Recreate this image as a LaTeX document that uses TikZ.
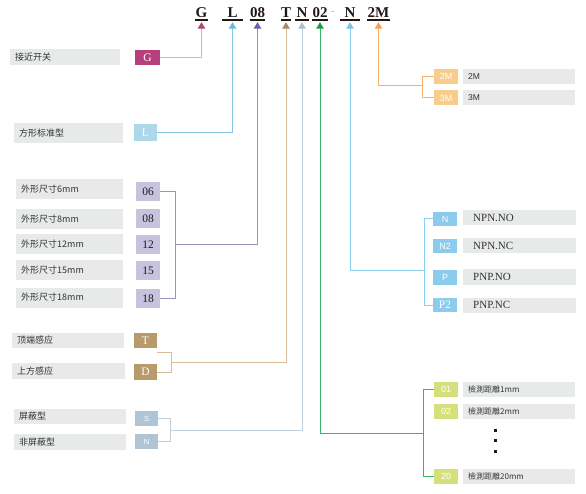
\documentclass[tikz,border=0pt]{standalone}
\usepackage{fontspec}
\setmainfont{Liberation Serif}
\setsansfont{Liberation Sans}
\newfontfamily\cjk{Noto Sans CJK SC}
\usetikzlibrary{arrows.meta,positioning,calc}
\definecolor{Ink}{RGB}{35,24,21}
\definecolor{TextGray}{RGB}{50,50,50}
\definecolor{PanelGray}{RGB}{232,234,234}
\definecolor{GBox}{RGB}{181,64,125}
\definecolor{GLine}{RGB}{230,167,201}
\definecolor{LBox}{RGB}{173,216,234}
\definecolor{LLine}{RGB}{134,198,227}
\definecolor{LTip}{RGB}{109,185,220}
\definecolor{VBox}{RGB}{198,195,223}
\definecolor{VLine}{RGB}{155,146,198}
\definecolor{VTip}{RGB}{106,98,169}
\definecolor{TBox}{RGB}{184,154,108}
\definecolor{TLine}{RGB}{213,190,153}
\definecolor{TTip}{RGB}{168,139,94}
\definecolor{SBox}{RGB}{175,197,214}
\definecolor{SLine}{RGB}{189,208,220}
\definecolor{STip}{RGB}{169,193,210}
\definecolor{EBox}{RGB}{213,224,122}
\definecolor{ELine}{RGB}{57,181,106}
\definecolor{ETip}{RGB}{26,158,74}
\definecolor{OBox}{RGB}{138,203,238}
\definecolor{OLine}{RGB}{141,205,239}
\definecolor{OTip}{RGB}{124,195,234}
\definecolor{MBox}{RGB}{248,205,140}
\definecolor{MLine}{RGB}{245,175,106}
\definecolor{MTip}{RGB}{245,162,85}
\tikzset{
  head/.style={font=\bfseries\fontsize{15}{15}\selectfont,text=Ink,inner sep=0pt,minimum height=14pt},
  uline/.style={draw=Ink,line width=2pt},
  desc/.style={fill=PanelGray,anchor=west,inner xsep=5pt,inner ysep=0pt,text width=#1,text=TextGray,font=\cjk\fontsize{9}{9}\selectfont},
  descrm/.style={desc=#1,font=\fontsize{11}{11}\selectfont},
  descsf/.style={desc=#1,font=\sffamily\fontsize{8.5}{8.5}\selectfont},
  code/.style={fill=#1,minimum width=24pt,minimum height=15pt,inner sep=0pt,text=white,font=\sffamily\fontsize{9}{9}\selectfont},
  coderm/.style={code=#1,font=\fontsize{11.5}{11.5}\selectfont},
  link/.style 2 args={draw=#1,line width=1pt,-{Triangle[width=7.5pt,length=6.5pt,color=#2]},shorten >=2pt},
  brace/.style={draw=#1,line width=1pt}
}
\begin{document}
\begin{tikzpicture}[x=1pt,y=-1pt]
\useasboundingbox (0,0) rectangle (586,494);

% model code
\node[head,minimum width=13pt] (hG) at (201.5,13) {G};
\node[head,minimum width=21pt] (hL) at (232.5,13) {L};
\node[head,minimum width=15pt] (h08) at (257.5,13) {08};
\node[head,minimum width=9pt] (hT) at (286,13) {T};
\node[head,minimum width=13pt] (hN) at (302,13) {N};
\node[head,minimum width=16pt] (h02) at (320,13) {02};
\node[head,text=gray!70,font=\fontsize{10}{10}\selectfont] (hDash) at (333,13) {-};
\node[head,minimum width=20pt] (hOut) at (350,13) {N};
\node[head,minimum width=22pt] (h2M) at (378.5,13) {2M};
\foreach \n in {hG,hL,h08,hT,hN,h02,hOut,h2M} \draw[uline] (\n.south west) -- (\n.south east);

% left column
\node[desc=100pt,minimum height=16pt] (dG) at (10,57) {接近开关};
\node[coderm=GBox,minimum width=25pt] (cG) at (147.5,57.5) {G};
\node[desc=99pt,minimum height=20pt] (dL) at (14,133) {方形标准型};
\node[coderm=LBox,minimum width=23pt,minimum height=17pt] (cL) at (145.5,132.5) {L};

\node[desc=97pt,minimum height=20pt] (d06) at (16,189) {外形尺寸6mm};
\node[desc=97pt,minimum height=20pt] (d08) at (16,219) {外形尺寸8mm};
\node[desc=97pt,minimum height=20pt] (d12) at (16,244) {外形尺寸12mm};
\node[desc=97pt,minimum height=20pt] (d15) at (16,270) {外形尺寸15mm};
\node[desc=97pt,minimum height=20pt] (d18) at (16,297.5) {外形尺寸18mm};
\node[coderm=VBox,text=Ink,minimum height=19pt] (c06) at (148,191.5) {06};
\node[coderm=VBox,text=Ink,minimum height=19pt] (c08) at (148,218.5) {08};
\node[coderm=VBox,text=Ink,minimum height=19pt] (c12) at (148,245) {12};
\node[coderm=VBox,text=Ink,minimum height=19pt] (c15) at (148,271) {15};
\node[coderm=VBox,text=Ink,minimum height=19pt] (c18) at (148,298.5) {18};

\node[desc=102pt,minimum height=15pt] (dT) at (12,340.5) {顶端感应};
\node[desc=103pt,minimum height=16pt] (dD) at (12,371) {上方感应};
\node[coderm=TBox,minimum width=23pt] (cT) at (145.5,340.5) {T};
\node[coderm=TBox,minimum width=23pt,minimum height=16pt] (cD) at (145.5,372) {D};

\node[desc=102pt,minimum height=15pt] (dS) at (14,416.5) {屏蔽型};
\node[desc=102pt,minimum height=16pt] (dU) at (14,442) {非屏蔽型};
\node[code=SBox,minimum width=23pt,font=\sffamily\fontsize{7.5}{7.5}\selectfont] (cS) at (146.5,418.5) {S};
\node[code=SBox,minimum width=23pt,font=\sffamily\fontsize{7.5}{7.5}\selectfont] (cU) at (146.5,441.5) {N};

% right column
\node[code=MBox] (c2M) at (446,76.5) {2M};
\node[code=MBox] (c3M) at (446,98) {3M};
\node[descsf=102pt,minimum height=15pt] (d2M) at (463,76.5) {2M};
\node[descsf=102pt,minimum height=15pt] (d3M) at (463,98) {3M};

\node[code=OBox,minimum height=14pt] (cN) at (445,219) {N};
\node[code=OBox,minimum height=14pt] (cN2) at (445,246) {N2};
\node[code=OBox,minimum height=14pt] (cP) at (445,277.5) {P};
\node[coderm=OBox,minimum height=14pt] (cP2) at (445,305) {P2};
\node[descrm=93pt,minimum height=15pt,inner xsep=10pt] (dN) at (463,218) {NPN.NO};
\node[descrm=93pt,minimum height=15pt,inner xsep=10pt] (dN2) at (463,245.5) {NPN.NC};
\node[descrm=93pt,minimum height=15pt,inner xsep=10pt] (dP) at (463,277) {PNP.NO};
\node[descrm=93pt,minimum height=15pt,inner xsep=10pt] (dP2) at (463,305) {PNP.NC};

\node[code=EBox] (c01) at (446,389.5) {01};
\node[code=EBox] (c02) at (446,411.5) {02};
\node[code=EBox] (c20) at (446,476.5) {20};
\node[desc=102pt,minimum height=15pt,font=\cjk\fontsize{8}{8}\selectfont] (d01) at (463,389.5) {檢測距離1mm};
\node[desc=102pt,minimum height=15pt,font=\cjk\fontsize{8}{8}\selectfont] (d02) at (463,411.5) {檢測距離2mm};
\node[desc=102pt,minimum height=15pt,font=\cjk\fontsize{8}{8}\selectfont] (d20) at (463,476.5) {檢測距離20mm};
\foreach \y in {430,440.5,451} \fill[Ink] (493.5,\y-1.5) rectangle ++(3,3);

% brackets
\coordinate (m08) at (175,245);
\coordinate (mT) at (171,362);
\coordinate (mS) at (170,430);
\coordinate (m2M) at (423,86);
\coordinate (mOut) at (425,271);
\coordinate (m02) at (424,433);
\draw[brace=VLine] (c06.east) -- ++(15,0) |- (c18.east);
\draw[brace=TLine] ([yshift=-4pt]cT.south east) -- ++(14,0) |- (cD.east);
\draw[brace=SLine] (cS.east) -- ++(12,0) |- (cU.east);
\draw[brace=MLine] (c2M.west) -- ++(-11,0) |- (c3M.west);
\draw[brace=OLine] (cN.west) -- ++(-8,0) |- (cP2.west);
\draw[brace=ELine] (c01.west) -- ++(-10,0) |- (c20.west);

% links to the code
\draw[link={GLine}{GBox}] (cG.east) -| (hG.south);
\draw[link={LLine}{LTip}] (cL.east) -| (hL.south);
\draw[link={VLine}{VTip}] (m08) -| (h08.south);
\draw[link={TLine}{TTip}] (mT) -| (hT.south);
\draw[link={SLine}{STip}] (mS) -| (hN.south);
\draw[link={ELine}{ETip}] (m02) -| (h02.south);
\draw[link={OLine}{OTip}] (mOut) -| (hOut.south);
\draw[link={MLine}{MTip}] (m2M) -| (h2M.south);
\end{tikzpicture}
\end{document}
